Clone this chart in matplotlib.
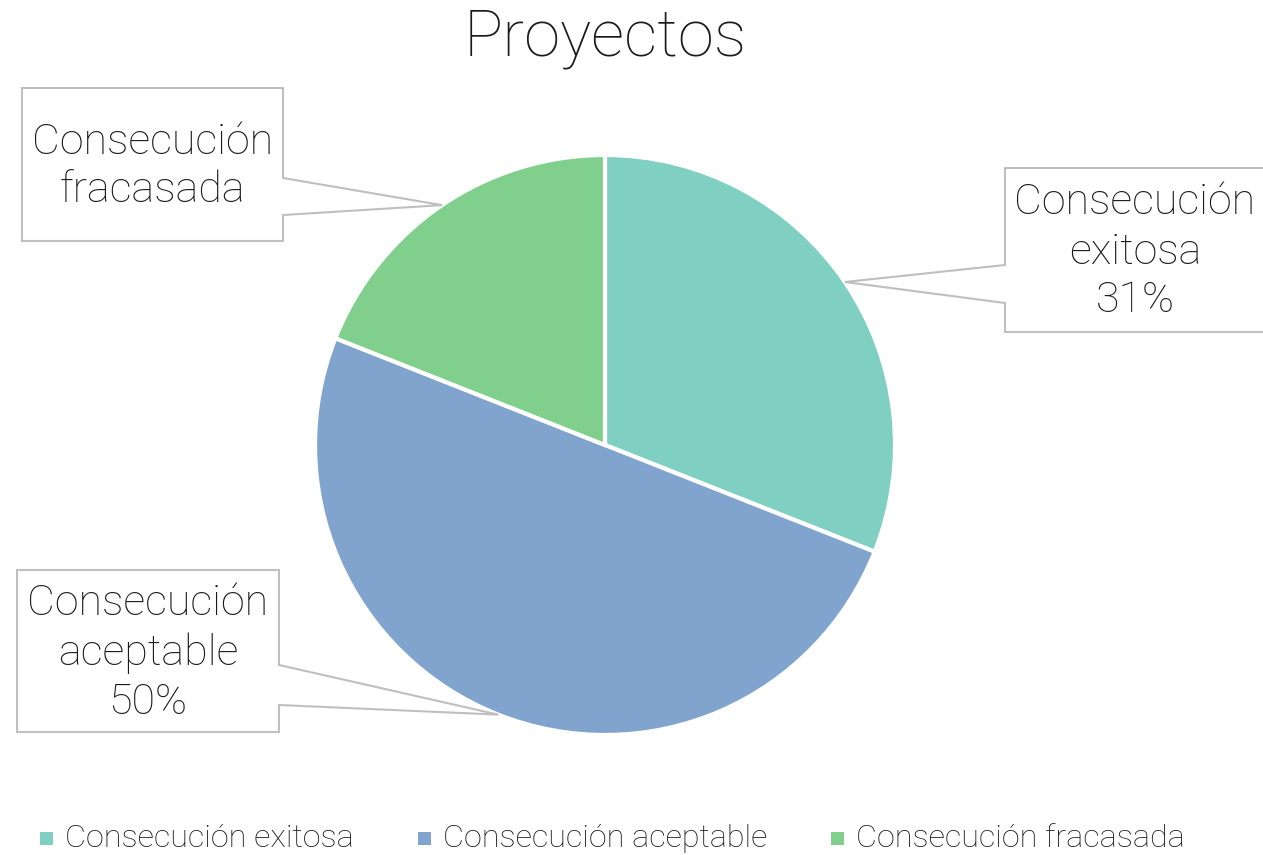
import numpy as np
import matplotlib.pyplot as plt
from matplotlib.patches import Polygon, Rectangle

plt.rcParams['font.family'] = ['Roboto', 'DejaVu Sans']

categories = ['Consecución exitosa', 'Consecución aceptable', 'Consecución fracasada']
values = [31, 50, 19]
colors = ['#80CFC3', '#80A4CE', '#80CF8C']
callout_texts = ['Consecución\nexitosa\n31%', 'Consecución\naceptable\n50%', 'Consecución\nfracasada']

W, H = 1263, 855
fig = plt.figure(figsize=(W / 100, H / 100), dpi=100)
ax = fig.add_axes([0, 0, 1, 1])

def Y(py):
    return H - py

center = (605, Y(445))
radius = 290
wedges, _ = ax.pie(values, colors=colors, startangle=90, counterclock=False,
                   center=center, radius=radius, frame=True,
                   wedgeprops=dict(edgecolor='white', linewidth=3))
ax.set_xlim(0, W)
ax.set_ylim(0, H)
ax.set_aspect('equal')
ax.axis('off')

# callout boxes: (left, top, right, bottom, wedge side, wedge base y0, y1) in pixel coords
boxes = [
    (1005, 168, 1275, 332, 'left', 265, 303),
    (17, 570, 279, 732, 'right', 665, 705),
    (22, 88, 283, 241, 'right', 178, 215),
]
for w, (l, t, r, b, side, y0, y1), txt in zip(wedges, boxes, callout_texts):
    mid = np.deg2rad((w.theta1 + w.theta2) / 2)
    tip = (center[0] + radius * np.cos(mid), center[1] + radius * np.sin(mid))
    if side == 'right':
        pts = [(l, Y(t)), (r, Y(t)), (r, Y(y0)), tip, (r, Y(y1)), (r, Y(b)), (l, Y(b))]
    else:
        pts = [(l, Y(t)), (r, Y(t)), (r, Y(b)), (l, Y(b)), (l, Y(y1)), tip, (l, Y(y0))]
    ax.add_patch(Polygon(pts, closed=True, facecolor='white', edgecolor='#BFBFBF',
                         linewidth=1.5, zorder=3))
    cx = (l + min(r, W)) / 2 + (1 if side == 'left' else 0)
    ax.text(cx, Y((t + b) / 2 + 2), txt, ha='center', va='center', fontsize=31,
            fontweight='light', color='#1a1a1a', linespacing=1.25, zorder=4)

ax.text(605, Y(38), 'Proyectos', ha='center', va='center', fontsize=47,
        fontweight='light', color='#1a1a1a')

# legend
leg_x = [40, 418, 831]
for x, c, lab in zip(leg_x, colors, categories):
    ax.add_patch(Rectangle((x, Y(845)), 13, 13, facecolor=c, edgecolor='none'))
    ax.text(x + 25, Y(838), lab, ha='left', va='center', fontsize=23.3,
            fontweight='light', color='#1a1a1a')

fig.savefig('out.png', dpi=100)
